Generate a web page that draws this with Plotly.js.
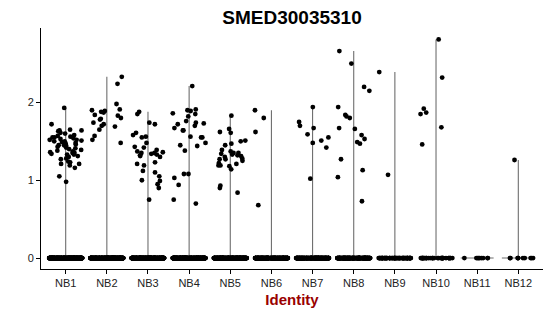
<!DOCTYPE html>
<html>
<head>
<meta charset="utf-8">
<script src="https://cdn.plot.ly/plotly-3.0.1.min.js"></script>
<style>html,body{margin:0;padding:0;background:#fff;}#chart{width:550px;height:316px;}</style>
</head>
<body>
<div id="chart"></div>
<script>
// Categories (cell identities)
const categories = ["NB1","NB2","NB3","NB4","NB5","NB6","NB7","NB8","NB9","NB10","NB11","NB12"];

// Non-zero expression values per identity
const nb1 = [1.93,1.72,1.65,1.64,1.64,1.63,1.61,1.60,1.58,1.57,1.56,1.55,1.55,1.54,1.53,1.52,1.52,1.51,1.50,1.50,1.49,1.48,1.47,1.46,1.45,1.45,1.44,1.43,1.42,1.41,1.40,1.39,1.38,1.37,1.36,1.35,1.35,1.34,1.33,1.33,1.31,1.30,1.28,1.27,1.24,1.23,1.21,1.21,1.19,1.16,1.05,0.98];
const nb2 = [2.33,2.24,1.98,1.91,1.90,1.89,1.88,1.87,1.84,1.83,1.80,1.79,1.78,1.74,1.72,1.70,1.69,1.65,1.57,1.52,1.48];
const nb3 = [1.88,1.85,1.74,1.72,1.61,1.58,1.56,1.55,1.48,1.43,1.42,1.39,1.37,1.36,1.35,1.35,1.34,1.33,1.32,1.31,1.30,1.23,1.21,1.19,1.12,1.10,1.05,1.00,0.99,0.95,0.90,0.75];
const nb4 = [2.21,1.91,1.90,1.89,1.86,1.85,1.82,1.76,1.74,1.73,1.72,1.70,1.67,1.64,1.64,1.56,1.55,1.55,1.48,1.45,1.44,1.38,1.08,1.08,1.03,0.94,0.75,0.70];
const nb5 = [1.83,1.66,1.62,1.61,1.51,1.50,1.47,1.45,1.39,1.37,1.35,1.35,1.34,1.33,1.32,1.31,1.30,1.28,1.27,1.27,1.25,1.22,1.21,1.19,1.19,1.18,1.14,0.93,0.90,0.84];
const nb6 = [1.90,1.80,1.62,0.68];
const nb7 = [1.94,1.75,1.70,1.67,1.59,1.55,1.51,1.48,1.42,1.02];
const nb8 = [2.66,2.50,2.20,2.15,1.94,1.84,1.82,1.80,1.67,1.66,1.58,1.53,1.49,1.47,1.27,1.13,1.04,0.73];
const nb9 = [2.39,1.07];
const nb10 = [2.81,2.32,1.92,1.87,1.85,1.68,1.46];
const nb11 = [];
const nb12 = [1.26];

// Number of cells with zero expression per identity (estimated)
const zeroCounts = [400,380,360,360,330,260,220,200,70,35,9,10];

const yTicks = [0,1,2];

const groups = [nb1,nb2,nb3,nb4,nb5,nb6,nb7,nb8,nb9,nb10,nb11,nb12];

// deterministic jitter (horizontal position only)
function mulberry32(a){return function(){a|=0;a=a+0x6D2B79F5|0;let t=Math.imul(a^a>>>15,1|a);t=t+Math.imul(t^t>>>7,61|t)^t;return((t^t>>>14)>>>0)/4294967296;}}
const rnd = mulberry32(12345);
const jw = 0.4;

// violin outlines (thin: spans 0..max, widest at 0)
const vx = [], vy = [];
groups.forEach((g, i) => {
  const mx = g.length ? Math.max(...g) : 0;
  if (mx > 0) { vx.push(i, i, null); vy.push(0, mx, null); }
  vx.push(i - jw, i + jw, null); vy.push(0, 0, null);
});

const px = [], py = [];
groups.forEach((g, i) => {
  for (let k = 0; k < zeroCounts[i]; k++) { px.push(i + (rnd()*2-1)*jw); py.push(0); }
  g.forEach(v => { px.push(i + (rnd()*2-1)*jw); py.push(v); });
});

const traces = [
  {type:'scatter', mode:'lines', x:vx, y:vy, line:{color:'#6e6e6e', width:1.1}, hoverinfo:'skip', showlegend:false},
  {type:'scatter', mode:'markers', x:px, y:py, marker:{color:'#000', size:4.8}, showlegend:false}
];

const layout = {
  width:550, height:316,
  margin:{l:41, r:7, t:28, b:47},
  paper_bgcolor:'#fff', plot_bgcolor:'#fff',
  font:{family:'"Liberation Sans", Arial, sans-serif', color:'#000', size:11},
  title:{text:'<b>SMED30035310</b>', x:0.531, xanchor:'center', y:0.945, yanchor:'middle', font:{size:19, color:'#000'}},
  xaxis:{
    range:[-0.6, 11.6], tickvals:categories.map((c,i)=>i), ticktext:categories,
    showgrid:false, zeroline:false, showline:true, linecolor:'#000', linewidth:1,
    ticks:'outside', ticklen:4, tickcolor:'#000', tickfont:{size:11, color:'#222'},
    title:{text:'<b>Identity</b>', font:{size:15, color:'#990000'}, standoff:6}
  },
  yaxis:{
    range:[-0.141, 2.957], tickvals:yTicks, ticktext:yTicks.map(String),
    showgrid:false, zeroline:false, showline:true, linecolor:'#000', linewidth:1,
    ticks:'outside', ticklen:4, tickcolor:'#000', tickfont:{size:11, color:'#222'}
  }
};

Plotly.newPlot('chart', traces, layout, {staticPlot:true, displayModeBar:false});
</script>
</body>
</html>
